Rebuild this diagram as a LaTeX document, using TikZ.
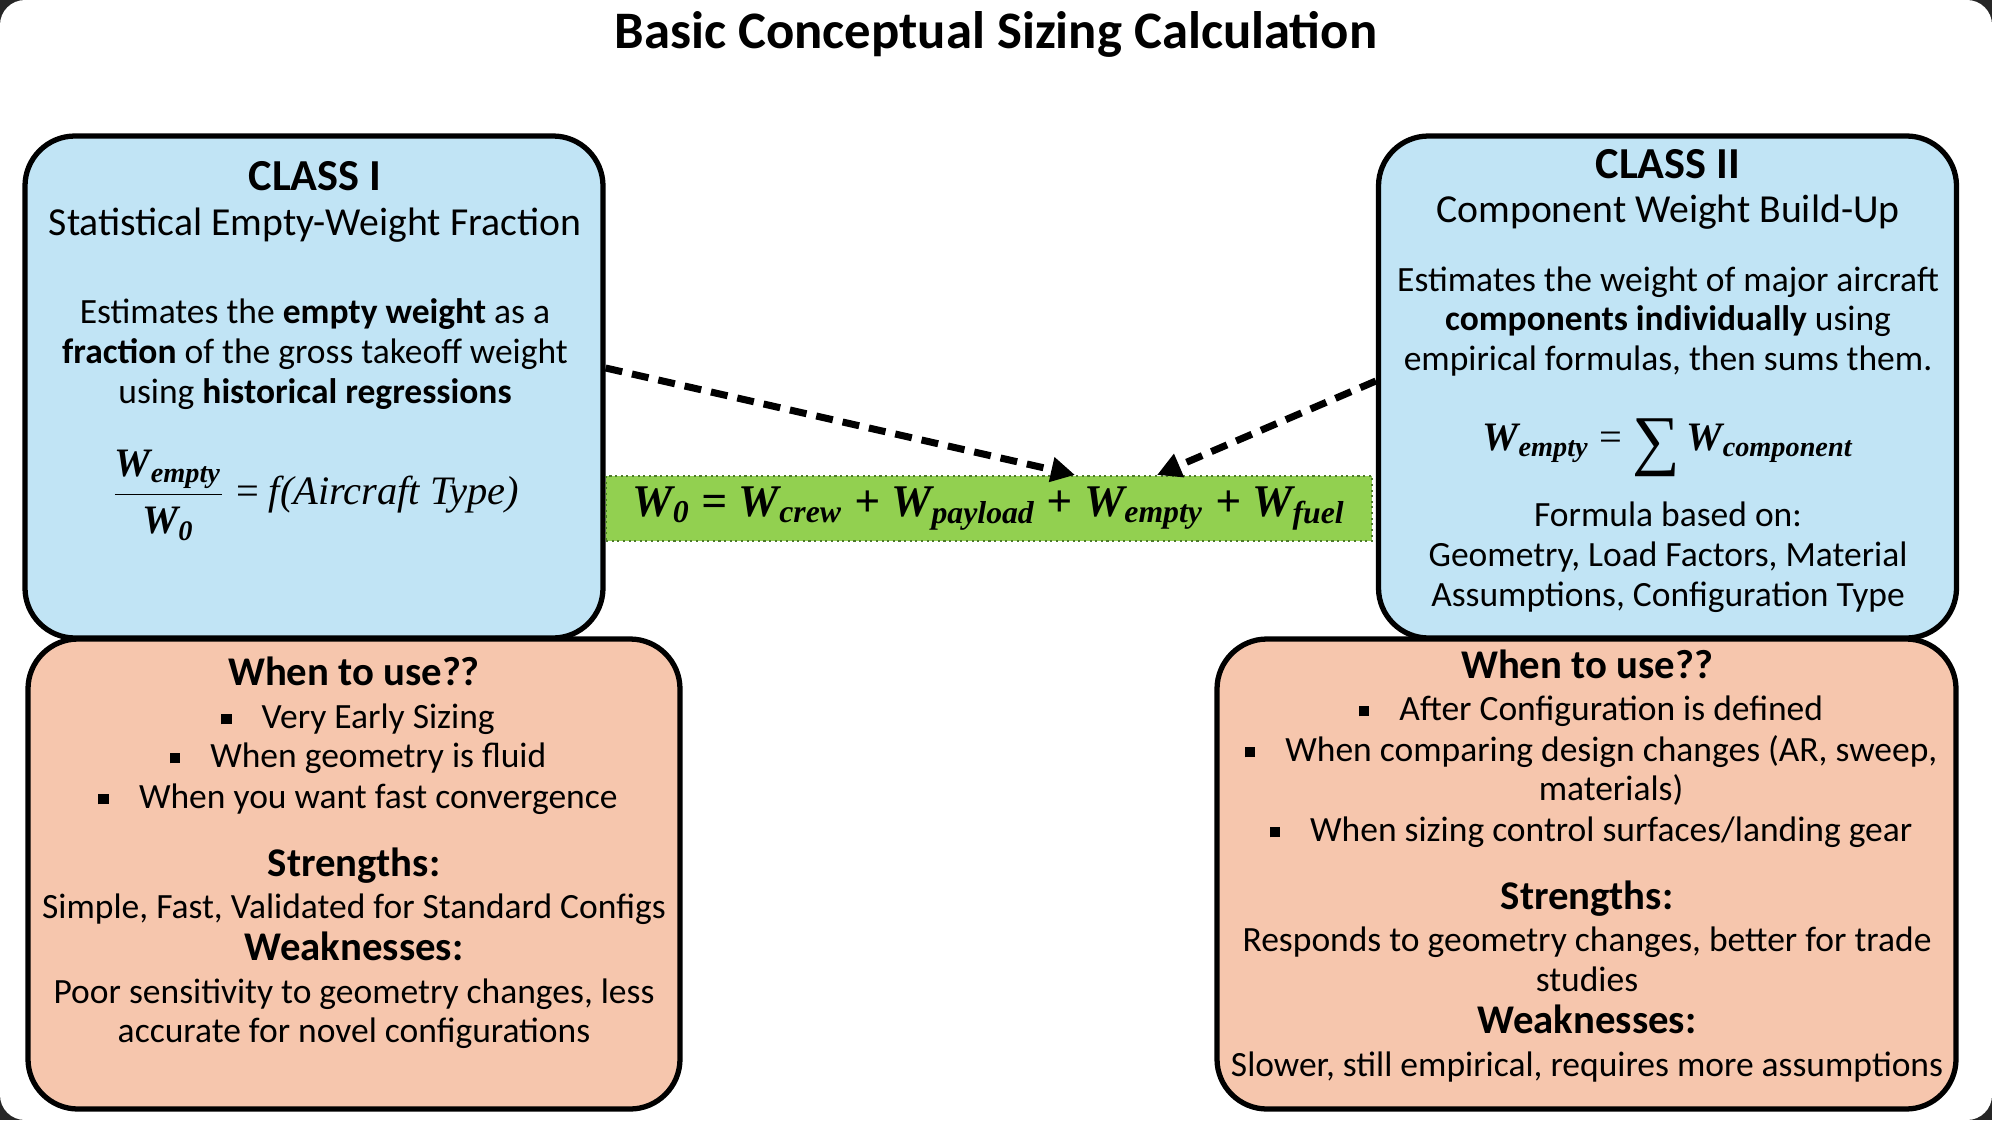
\documentclass[tikz,border=0pt]{standalone}
\usepackage[no-math]{fontspec}
\usepackage{amsmath}
\setmainfont{Carlito}
\newfontfamily\eqfont{Liberation Serif}
\usetikzlibrary{arrows.meta}

\definecolor{screen}{HTML}{262626}
\definecolor{classblue}{HTML}{C1E4F5}
\definecolor{useorange}{HTML}{F6C6AD}
\definecolor{eqgreen}{HTML}{92D050}
\definecolor{eqedge}{HTML}{4E7A2C}

\newcommand\sqbul{\rule[0.25ex]{0.62ex}{0.62ex}\hspace{0.3cm}}
\newcommand\wsub[1]{W\textsubscript{#1}}

\begin{document}
\begin{tikzpicture}[
 classbox/.style={draw=black,line width=1.5pt,rounded corners=0.5cm,fill=classblue,minimum width=5.78cm,minimum height=5.02cm},
 usebox/.style={draw=black,line width=1.5pt,rounded corners=0.5cm,fill=useorange,minimum height=4.7cm},
 txt/.style={inner sep=0pt,text height=1.5ex,text depth=.25ex},
 body/.style={txt,font=\fontsize{10.1}{12}\selectfont},
 sub/.style={txt,font=\fontsize{11.3}{13}\selectfont},
 cls/.style={txt,font=\fontsize{12.6}{15}\selectfont\bfseries},
 small/.style={txt,font=\fontsize{10.1}{12}\selectfont},
 head/.style={txt,font=\fontsize{11.6}{14}\selectfont\bfseries},
 formula/.style={inner sep=0pt,font=\fontsize{11.5}{14}\selectfont\eqfont},
 flow/.style={line width=2pt,dash pattern=on 0.17cm off 0.1cm,-{Triangle[length=0.24cm,width=0.24cm]}}]

\useasboundingbox (0,0) rectangle (19.92,-11.2);
\fill[screen] (0,0) rectangle (19.92,-11.2);
\fill[white,rounded corners=0.25cm] (0,0) rectangle (19.92,-11.2);

\node[txt,font=\fontsize{15}{18}\selectfont\bfseries] (title) at (9.96,-0.38) {Basic Conceptual Sizing Calculation};

% boxes
\node[usebox,minimum width=6.52cm] (useone) at (3.54,-8.74) {};
\node[usebox,minimum width=7.39cm] (usetwo) at (15.865,-8.74) {};
\node[classbox] (clsone) at (3.14,-3.87) {};
\node[classbox] (clstwo) at (16.675,-3.87) {};
\node[fill=eqgreen,draw=eqedge,densely dotted,line width=0.6pt,minimum width=7.66cm,minimum height=0.65cm] (eqn) at (9.89,-5.085) {};

% class I
\node[cls] (c1a) at (3.15,-1.80) {CLASS I};
\node[sub] (c1b) at (3.15,-2.25) {Statistical Empty-Weight Fraction};
\node[body] (c1c) at (3.15,-3.13) {Estimates the \textbf{empty weight} as a};
\node[body] (c1d) at (3.15,-3.53) {\textbf{fraction} of the gross takeoff weight};
\node[body] (c1e) at (3.15,-3.93) {using \textbf{historical regressions}};
\node[formula] (c1f) at (3.15,-4.95)
 {$\dfrac{\text{\bfseries\itshape\wsub{empty}}}{\text{\bfseries\itshape\wsub{0}}}$ = \itshape f(Aircraft Type)};

% class II
\node[cls] (c2a) at (16.68,-1.68) {CLASS II};
\node[sub] (c2b) at (16.68,-2.12) {Component Weight Build-Up};
\node[body] (c2c) at (16.68,-2.81) {Estimates the weight of major aircraft};
\node[body] (c2d) at (16.68,-3.20) {\textbf{components individually} using};
\node[body] (c2e) at (16.68,-3.60) {empirical formulas, then sums them.};
\node[formula,anchor=base] (c2f) at (16.68,-4.50)
 {{\bfseries\itshape\wsub{empty}} = \raisebox{-0.12cm}{\fontsize{19}{19}\selectfont ∑}\,{\bfseries\itshape\wsub{component}}};
\node[body] (c2g) at (16.68,-5.16) {Formula based on:};
\node[body] (c2h) at (16.68,-5.56) {Geometry, Load Factors, Material};
\node[body] (c2i) at (16.68,-5.96) {Assumptions, Configuration Type};

% main equation
\node[formula,font=\fontsize{12.9}{15}\selectfont\eqfont\bfseries\itshape] (w0) at (eqn)
 {\wsub{0} = \wsub{crew} + \wsub{payload} + \wsub{empty} + \wsub{fuel}};

% when to use, class I
\node[head] (u1a) at (3.54,-6.75) {When to use??};
\node[small] (u1b) at (3.58,-7.18) {\sqbul Very Early Sizing};
\node[small] (u1c) at (3.58,-7.57) {\sqbul When geometry is fluid};
\node[small] (u1d) at (3.58,-7.98) {\sqbul When you want fast convergence};
\node[head] (u1e) at (3.54,-8.66) {Strengths:};
\node[small] (u1f) at (3.54,-9.08) {Simple, Fast, Validated for Standard Configs};
\node[head] (u1g) at (3.54,-9.50) {Weaknesses:};
\node[small] (u1h) at (3.54,-9.93) {Poor sensitivity to geometry changes, less};
\node[small] (u1i) at (3.54,-10.32) {accurate for novel configurations};

% when to use, class II
\node[head] (u2a) at (15.87,-6.68) {When to use??};
\node[small] (u2b) at (15.91,-7.10) {\sqbul After Configuration is defined};
\node[small] (u2c) at (15.91,-7.51) {\sqbul When comparing design changes (AR, sweep,};
\node[small] (u2d) at (16.11,-7.90) {materials)};
\node[small] (u2e) at (15.91,-8.31) {\sqbul When sizing control surfaces/landing gear};
\node[head] (u2f) at (15.87,-8.99) {Strengths:};
\node[small] (u2g) at (15.87,-9.41) {Responds to geometry changes, better for trade};
\node[small] (u2h) at (15.87,-9.81) {studies};
\node[head] (u2i) at (15.87,-10.23) {Weaknesses:};
\node[small] (u2j) at (15.87,-10.66) {Slower, still empirical, requires more assumptions};

% arrows into the equation
\draw[flow] ([yshift=0.19cm]clsone.east) -- ([xshift=0.86cm]eqn.north);
\draw[flow] ([yshift=0.06cm]clstwo.west) -- ([xshift=1.68cm]eqn.north);

\end{tikzpicture}
\end{document}
